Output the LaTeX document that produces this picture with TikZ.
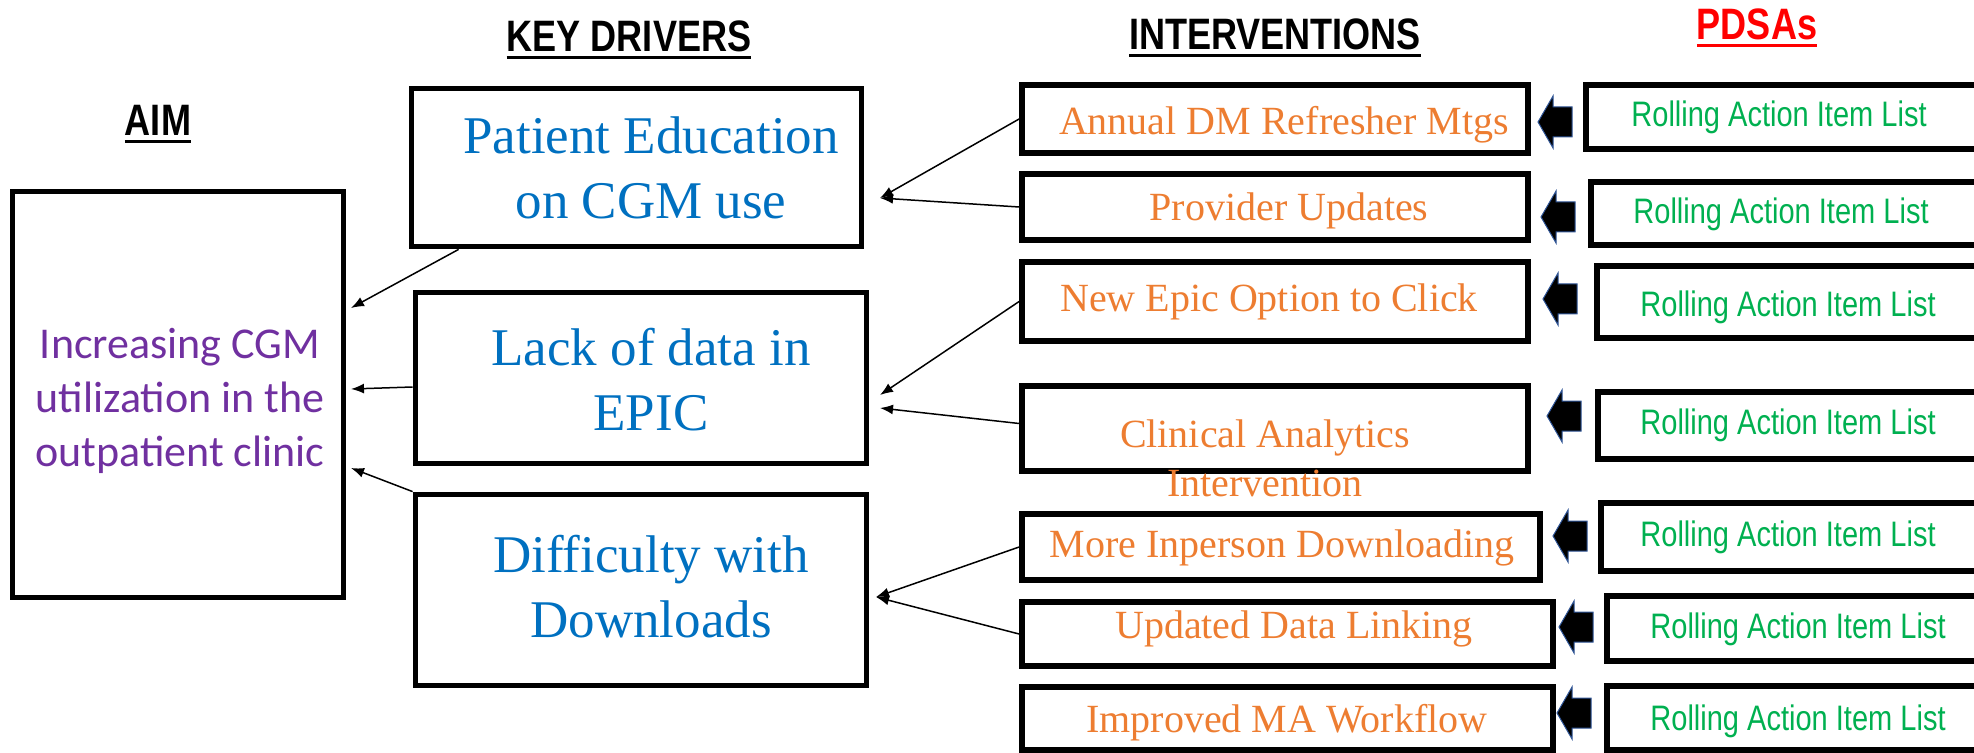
\documentclass[tikz,border=0pt]{standalone}
\usepackage{fontspec}
\setmainfont{Liberation Serif}
\newfontfamily\calfont{Carlito}
\newfontfamily\narrowfont[FakeStretch=0.82]{Liberation Sans}
\usetikzlibrary{arrows.meta,calc}
\definecolor{aimpurple}{RGB}{112,48,160}
\definecolor{kdblue}{RGB}{0,112,192}
\definecolor{intorange}{RGB}{237,125,49}
\definecolor{pdsagreen}{RGB}{0,176,80}
\definecolor{pdsared}{RGB}{255,0,0}
\definecolor{arrowblue}{RGB}{47,85,151}
\newcommand\headul[1]{\setbox0\hbox{#1}\rlap{\raisebox{-3.6pt}{\rule{\wd0}{1.5pt}}}\box0}
\begin{document}
\begin{tikzpicture}[x=0.5pt,y=-0.5pt,
  box/.style={draw=black,line width=2.9pt,rectangle,inner sep=0pt},
  heading/.style={anchor=base,inner sep=0pt,font=\narrowfont\bfseries\fontsize{22pt}{26pt}\selectfont},
  aimtext/.style={text=aimpurple,align=center,inner sep=0pt,font=\calfont\fontsize{22pt}{27pt}\selectfont},
  kdtext/.style={text=kdblue,align=center,inner sep=0pt,font=\fontsize{26.5pt}{32.5pt}\selectfont},
  inttext/.style={text=intorange,align=center,inner sep=0pt,font=\fontsize{20pt}{24.5pt}\selectfont},
  pdsatext/.style={text=pdsagreen,inner sep=0pt,font=\narrowfont\fontsize{17.7pt}{21pt}\selectfont},
  conn/.style={line width=0.75pt,-{Latex[length=6.5pt,width=5pt]}},
  blockarrow/.pic={\draw[fill=black,draw=arrowblue,line width=0.5pt] (0,0) -- (15,-26) -- (15,-15) -- (34,-15) -- (34,15) -- (15,15) -- (15,26) -- cycle;}
]
\path[use as bounding box,clip] (0,0) rectangle (1974,753);

% headings
\node[heading] (hAim) at (158,136) {\headul{AIM}};
\node[heading] (hKd) at (629,52) {\headul{KEY DRIVERS}};
\node[heading] (hInt) at (1275,50) {\headul{INTERVENTIONS}};
\node[heading,text=pdsared] (hPdsa) at (1757,40) {\headul{PDSAs}};

% aim
\node[box,minimum width=165.5pt,minimum height=203pt] (aim) at (178,394.5) {};
\node[aimtext] (aimt) at (180,401) {Increasing CGM\\utilization in the\\outpatient clinic};

% key drivers
\node[box,minimum width=225pt,minimum height=79pt] (d1) at (636.5,167.5) {};
\node[box,minimum width=225.5pt,minimum height=85.5pt] (d2) at (641,378) {};
\node[box,minimum width=225.5pt,minimum height=95.5pt] (d3) at (641,590) {};
\node[kdtext] (d1t) at (651,168) {Patient Education\\on CGM use};
\node[kdtext] (d2t) at (651,380) {Lack of data in\\EPIC};
\node[kdtext] (d3t) at (651,587) {Difficulty with\\Downloads};

% interventions
\node[box,minimum width=253pt,minimum height=34pt] (i1) at (1275,119) {};
\node[box,minimum width=253pt,minimum height=33pt] (i2) at (1275,207) {};
\node[box,minimum width=253pt,minimum height=39.5pt] (i3) at (1275,301.5) {};
\node[box,minimum width=253pt,minimum height=42.5pt] (i4) at (1275,428.5) {};
\node[box,minimum width=259pt,minimum height=33pt] (i5) at (1281,547) {};
\node[box,minimum width=265.5pt,minimum height=32pt] (i6) at (1287.5,634) {};
\node[box,minimum width=265.5pt,minimum height=31.5pt] (i7) at (1287.5,718.5) {};
\node[inttext] (i1t) at (1284,125) {Annual DM Refresher Mtgs};
\node[inttext] (i2t) at (1289,211) {Provider Updates};
\node[inttext] (i3t) at (1269,302) {New Epic Option to Click};
\node[inttext] (i4t) at (1265,458) {Clinical Analytics\\Intervention};
\node[inttext] (i5t) at (1282,548) {More Inperson Downloading};
\node[inttext] (i6t) at (1294,629) {Updated Data Linking};
\node[inttext] (i7t) at (1287,723) {Improved MA Workflow};

% PDSAs
\node[box,minimum width=202pt,minimum height=32pt] (p1) at (1788,117) {};
\node[box,minimum width=199.5pt,minimum height=31.5pt] (p2) at (1790.5,213.5) {};
\node[box,minimum width=196.5pt,minimum height=36pt] (p3) at (1793.5,302) {};
\node[box,minimum width=196pt,minimum height=33.5pt] (p4) at (1794,425.5) {};
\node[box,minimum width=194.5pt,minimum height=34pt] (p5) at (1795.5,537) {};
\node[box,minimum width=191.5pt,minimum height=32.5pt] (p6) at (1798.5,628.5) {};
\node[box,minimum width=191.5pt,minimum height=32pt] (p7) at (1798.5,718) {};
\node[pdsatext] (p1t) at (1779,117) {Rolling Action Item List};
\node[pdsatext] (p2t) at (1781,214) {Rolling Action Item List};
\node[pdsatext] (p3t) at (1788,307) {Rolling Action Item List};
\node[pdsatext] (p4t) at (1788,425) {Rolling Action Item List};
\node[pdsatext] (p5t) at (1788,537) {Rolling Action Item List};
\node[pdsatext] (p6t) at (1798,629) {Rolling Action Item List};
\node[pdsatext] (p7t) at (1798,721) {Rolling Action Item List};

% block arrows
\pic at (1538,122) {blockarrow};
\pic at (1541,217) {blockarrow};
\pic at (1543,299) {blockarrow};
\pic at (1547,416) {blockarrow};
\pic at (1553,536) {blockarrow};
\pic at (1559,627) {blockarrow};
\pic at (1557,713) {blockarrow};

% connectors
\coordinate (t1) at (880,198);
\coordinate (t2) at (880,395);
\coordinate (t3) at (880,408);
\coordinate (t4) at (876,597);
\coordinate (a1) at (351,308);
\coordinate (a2) at (351,389);
\coordinate (a3) at (351,468);
\draw[conn] (i1.west) -- (t1);
\draw[conn] (i2.west) -- (t1);
\draw[conn] (i3.west) -- (t2);
\draw[conn] ($(i4.west)+(0,-5)$) -- (t3);
\draw[conn] (i5.west) -- (t4);
\draw[conn] (i6.west) -- (t4);
\draw[conn] ($(d1.south west)+(50,0)$) -- (a1);
\draw[conn] ($(d2.west)+(0,9)$) -- (a2);
\draw[conn] (d3.north west) -- (a3);
\end{tikzpicture}
\end{document}
